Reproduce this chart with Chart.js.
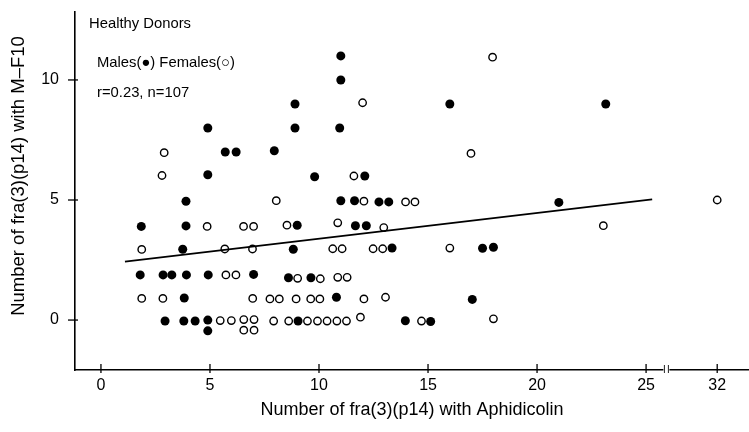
<!DOCTYPE html>
<html><head><meta charset="utf-8">
<script src="https://cdn.jsdelivr.net/npm/chart.js@4.4.1/dist/chart.umd.min.js"></script>
<style>html,body{margin:0;padding:0;background:#fff}#wrap{width:749px;height:432px;position:relative}</style>
</head><body><div id="wrap"><canvas id="c" width="749" height="432"></canvas></div>
<script>
// ---- data ----
const maleX = [11.0, 11.0, 8.9, 16.0, 23.15, 4.9, 8.9, 10.95, 5.7, 6.2, 7.95, 4.9, 9.8, 12.1,
  3.9, 11.0, 11.63, 12.75, 13.2, 21.0, 1.85, 3.9, 9.0, 11.67, 12.17, 3.75, 8.82, 13.35, 17.5, 18.0,
  1.8, 2.85, 3.25, 3.92, 4.92, 7.0, 8.6, 9.63, 3.82, 10.8, 17.03,
  2.94, 3.8, 4.32, 4.9, 4.9, 9.04, 13.96, 15.12];
const maleY = [11.0, 10.0, 9.0, 9.0, 9.0, 8.0, 8.0, 8.0, 7.0, 7.0, 7.05, 6.05, 5.97, 6.0,
  4.95, 4.97, 4.97, 4.92, 4.92, 4.9, 3.9, 3.92, 3.95, 3.93, 3.93, 2.95, 2.95, 3.0, 2.99, 3.03,
  1.88, 1.88, 1.88, 1.88, 1.88, 1.9, 1.76, 1.76, 0.92, 0.95, 0.86,
  -0.04, -0.04, -0.04, 0.0, -0.45, -0.04, -0.03, -0.06];
const femaleX = [17.96, 12.0, 2.9, 16.97, 2.8, 11.6, 8.04, 12.06, 13.97, 14.4, 32,
  4.87, 6.54, 7.0, 8.53, 10.86, 12.97, 23.04,
  1.87, 5.68, 6.95, 10.63, 11.06, 12.48, 12.92, 16.0,
  5.73, 6.19, 9.02, 10.06, 10.86, 11.29,
  1.87, 2.84, 6.96, 7.75, 8.18, 8.95, 9.62, 10.04, 12.06, 13.05,
  5.47, 5.98, 6.55, 7.02, 6.55, 7.02, 7.92, 8.61, 9.47, 9.93, 10.37, 10.82, 11.26, 11.9, 14.7, 18.0];
const femaleY = [10.95, 9.05, 6.97, 6.94, 6.02, 6.0, 4.97, 4.95, 4.92, 4.92, 5.0,
  3.9, 3.9, 3.9, 3.95, 4.05, 3.85, 3.93,
  2.94, 2.96, 2.96, 2.97, 2.97, 2.97, 2.97, 3.0,
  1.88, 1.88, 1.74, 1.72, 1.78, 1.78,
  0.9, 0.9, 0.9, 0.88, 0.88, 0.88, 0.88, 0.88, 0.88, 0.95,
  -0.02, -0.02, 0.02, 0.02, -0.42, -0.42, -0.04, -0.04, -0.04, -0.04, -0.04, -0.04, -0.04, 0.12, -0.04, 0.05];
const fitX = [1.1, 25.6];
const fitY = [2.43, 5.03];
const xTickValues = [0, 5, 10, 15, 20, 25, 32];
const yTickValues = [0, 5, 10];
const xTitle = 'Number of fra(3)(p14) with Aphidicolin';
const yTitle = 'Number of fra(3)(p14) with M\u2013F10';
const notes = ['Healthy Donors', 'Males(\u25CF) Females(\u25CB)', 'r=0.23, n=107'];

// broken x axis: values beyond 25 are compressed
const BREAK_START = 25, BREAK_SCALE = 0.466, BREAK_MARK = 27;
const toPos = x => x <= BREAK_START ? x : BREAK_START + (x - BREAK_START) * BREAK_SCALE;
const pts = (xs, ys) => xs.map((x, i) => ({x: toPos(x), y: ys[i]}));

const FONT = '"Liberation Sans", Arial, sans-serif';
Chart.defaults.color = '#000';
Chart.defaults.font.family = FONT;

const decor = {
  id: 'decor',
  afterDraw(chart) {
    const {ctx, scales: {x, y}, chartArea: ca} = chart;
    ctx.save();
    ctx.strokeStyle = '#000';
    ctx.lineWidth = 1.3;
    // tick marks crossing the axes
    xTickValues.forEach(v => {
      const px = x.getPixelForValue(toPos(v));
      ctx.beginPath(); ctx.moveTo(px, ca.bottom - 6); ctx.lineTo(px, ca.bottom + 3); ctx.stroke();
    });
    yTickValues.forEach(v => {
      const py = y.getPixelForValue(v);
      ctx.beginPath(); ctx.moveTo(ca.left - 7, py); ctx.lineTo(ca.left + 3, py); ctx.stroke();
    });
    // axis break mark
    const bx = x.getPixelForValue(toPos(BREAK_MARK));
    ctx.fillStyle = '#fff';
    ctx.fillRect(bx - 3, ca.bottom - 3, 6, 6);
    ctx.lineWidth = 1;
    ctx.strokeStyle = '#222';
    [bx - 2, bx + 2].forEach(px => { ctx.beginPath(); ctx.moveTo(px, ca.bottom - 5); ctx.lineTo(px, ca.bottom + 3); ctx.stroke(); });
    // y title
    ctx.fillStyle = '#000';
    ctx.font = '18.5px ' + FONT;
    ctx.textAlign = 'center'; ctx.textBaseline = 'middle';
    ctx.translate(19, 176); ctx.rotate(-Math.PI / 2);
    ctx.fillText(yTitle, 0, 0);
    ctx.restore();
    // annotations
    ctx.save();
    ctx.fillStyle = '#000';
    ctx.font = '14.8px ' + FONT;
    ctx.textAlign = 'left'; ctx.textBaseline = 'middle';
    ctx.fillText(notes[0], 89, 24);
    ctx.fillText(notes[1], 97, 63);
    ctx.fillText(notes[2], 97, 93);
    ctx.restore();
  }
};

new Chart(document.getElementById('c'), {
  type: 'scatter',
  data: {
    datasets: [
      {type: 'line', label: 'fit', data: pts(fitX, fitY), borderColor: '#000', borderWidth: 1.8,
       pointRadius: 0, fill: false, order: 0},
      {label: 'Males', data: pts(maleX, maleY), backgroundColor: '#000', borderColor: '#000',
       borderWidth: 0, pointRadius: 4.5, order: 1},
      {label: 'Females', data: pts(femaleX, femaleY), backgroundColor: '#fff', borderColor: '#000',
       borderWidth: 1.4, pointRadius: 3.7, order: 1}
    ]
  },
  options: {
    responsive: false,
    animation: false,
    devicePixelRatio: 1,
    layout: {autoPadding: false, padding: {top: 12, left: 0, right: 0, bottom: 0}},
    plugins: {legend: {display: false}, tooltip: {enabled: false}},
    scales: {
      x: {
        type: 'linear', min: -1.19, max: 29.72,
        afterBuildTicks: s => { s.ticks = xTickValues.map(v => ({value: toPos(v)})); },
        afterFit: s => { s.height = 62; s.paddingLeft = 0; s.paddingRight = 0; },
        ticks: {callback: (v, i) => String(xTickValues[i]), font: {size: 16}, padding: 6, maxRotation: 0, autoSkip: false},
        grid: {display: false, drawTicks: false},
        border: {display: true, color: '#000', width: 1.6},
        title: {display: true, text: xTitle, font: {size: 18}, padding: {top: 0, bottom: 11}}
      },
      y: {
        type: 'linear', min: -2.08, max: 12.83,
        afterBuildTicks: s => { s.ticks = yTickValues.map(v => ({value: v})); },
        afterFit: s => { s.width = 75; s.paddingTop = 0; s.paddingBottom = 0; },
        ticks: {callback: (v, i) => String(yTickValues[i]), font: {size: 16}, padding: 16},
        grid: {display: false, drawTicks: false},
        border: {display: true, color: '#000', width: 1.6}
      }
    }
  },
  plugins: [decor]
});
</script>
</body></html>
